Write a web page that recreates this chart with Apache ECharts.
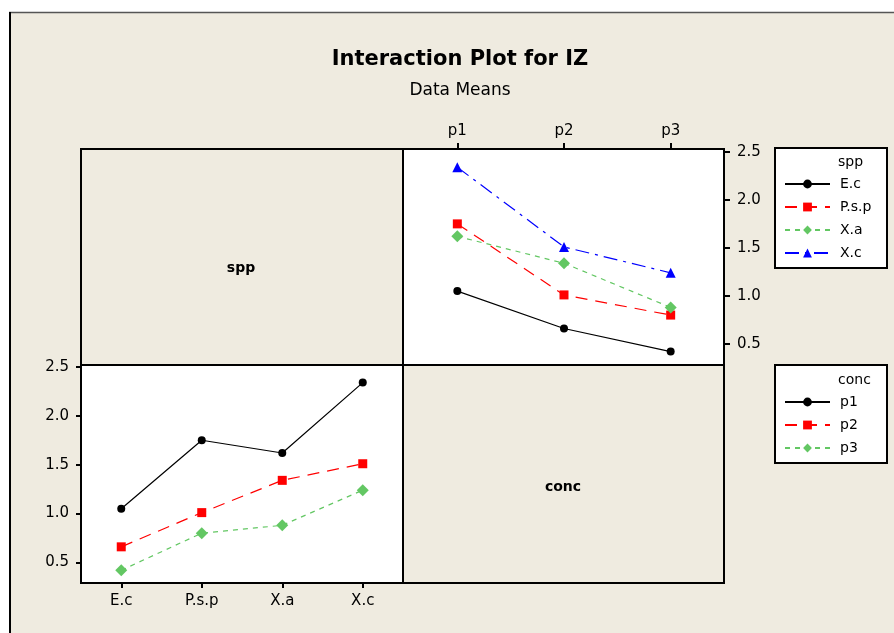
<!DOCTYPE html>
<html>
<head>
<meta charset="utf-8">
<script src="https://cdn.jsdelivr.net/npm/echarts@6/dist/echarts.min.js"></script>
<style>
html,body{margin:0;padding:0;background:#fff;}
#chart{width:894px;height:633px;}
</style>
</head>
<body>
<div id="chart"></div>
<script>
// ---- data ----
const concLevels = ['p1', 'p2', 'p3'];
const sppLevels = ['E.c', 'P.s.p', 'X.a', 'X.c'];
const meanEc  = [1.05, 0.66, 0.42];
const meanPsp = [1.75, 1.01, 0.80];
const meanXa  = [1.62, 1.34, 0.88];
const meanXc  = [2.34, 1.51, 1.24];
const yTicks = [0.5, 1.0, 1.5, 2.0, 2.5];
const titleText = 'Interaction Plot for IZ';
const subtitleText = 'Data Means';

const sppMeans = [meanEc, meanPsp, meanXa, meanXc];

const FONT = 'DejaVu Sans';
const BG = '#EFEBE0';
const styles = [
  { color: '#000000', type: 'solid', symbol: 'circle', size: 8 },
  { color: '#FF0000', type: [12, 8], symbol: 'rect', size: 9 },
  { color: '#63C763', type: [5, 5], symbol: 'diamond', size: 12 },
  { color: '#0000FF', type: [14, 6, 3, 6], symbol: 'triangle', size: 10 }
];

const series = [];
sppLevels.forEach((name, i) => {
  const s = styles[i];
  series.push({
    name: name, type: 'line', xAxisIndex: 0, yAxisIndex: 0,
    data: sppMeans[i],
    symbol: s.symbol, symbolSize: s.size,
    itemStyle: { color: s.color },
    lineStyle: { color: s.color, width: 1.2, type: s.type },
    animation: false
  });
});
concLevels.forEach((name, j) => {
  const s = styles[j];
  series.push({
    name: name, type: 'line', xAxisIndex: 1, yAxisIndex: 1,
    data: sppMeans.map(arr => arr[j]),
    symbol: s.symbol, symbolSize: s.size,
    itemStyle: { color: s.color },
    lineStyle: { color: s.color, width: 1.2, type: s.type },
    animation: false
  });
});

const labelStyle = { fontFamily: FONT, fontSize: 15, color: '#000' };
const fmt = v => Number(v).toFixed(1);
const legendText = { fontFamily: FONT, fontSize: 14, color: '#000', lineHeight: 16, padding: [0, 0, 0, 5] };

const option = {
  backgroundColor: BG,
  animation: false,
  title: [
    { text: titleText, left: 455, top: 44, textAlign: 'center',
      textStyle: { fontFamily: FONT, fontSize: 21, fontWeight: 'bold', color: '#000' } },
    { text: subtitleText, left: 455, top: 77, textAlign: 'center',
      textStyle: { fontFamily: FONT, fontSize: 17, fontWeight: 'normal', color: '#000' } }
  ],
  grid: [
    { left: 404, top: 149, width: 320, height: 216, show: true, backgroundColor: '#fff', borderWidth: 0 },
    { left: 81, top: 365, width: 322, height: 218, show: true, backgroundColor: '#fff', borderWidth: 0 }
  ],
  xAxis: [
    { type: 'category', gridIndex: 0, data: concLevels, position: 'top', boundaryGap: true,
      axisLine: { show: false },
      axisTick: { show: true, alignWithLabel: true, length: 6, lineStyle: { color: '#000', width: 2 } },
      axisLabel: Object.assign({ margin: 10 }, labelStyle),
      splitLine: { show: false } },
    { type: 'category', gridIndex: 1, data: sppLevels, position: 'bottom', boundaryGap: true,
      axisLine: { show: false },
      axisTick: { show: true, alignWithLabel: true, length: 5, lineStyle: { color: '#000', width: 2 } },
      axisLabel: Object.assign({ margin: 11 }, labelStyle),
      splitLine: { show: false } }
  ],
  yAxis: [
    { type: 'value', gridIndex: 0, position: 'right', min: 0.28, max: 2.53,
      axisLine: { show: false },
      axisTick: { show: true, length: 6, customValues: yTicks, lineStyle: { color: '#000', width: 2 } },
      axisLabel: Object.assign({ margin: 13, customValues: yTicks, formatter: fmt }, labelStyle),
      splitLine: { show: false } },
    { type: 'value', gridIndex: 1, position: 'left', min: 0.29, max: 2.52,
      axisLine: { show: false },
      axisTick: { show: true, length: 5, customValues: yTicks, lineStyle: { color: '#000', width: 2 } },
      axisLabel: Object.assign({ margin: 12, customValues: yTicks, formatter: fmt }, labelStyle),
      splitLine: { show: false } }
  ],
  legend: [
    { data: sppLevels, orient: 'vertical', left: 779, top: 171, itemWidth: 45, itemHeight: 11,
      itemGap: 7, selectedMode: false, textStyle: legendText },
    { data: concLevels, orient: 'vertical', left: 779, top: 389, itemWidth: 45, itemHeight: 11,
      itemGap: 7, selectedMode: false, textStyle: legendText }
  ],
  graphic: [
    // white margin outside the frame
    { type: 'rect', shape: { x: 0, y: 0, width: 894, height: 12 }, style: { fill: '#fff' }, z: 0, silent: true },
    { type: 'rect', shape: { x: 0, y: 0, width: 9, height: 633 }, style: { fill: '#fff' }, z: 0, silent: true },
    { type: 'line', shape: { x1: 9, y1: 12.5, x2: 894, y2: 12.5 }, style: { stroke: '#555', lineWidth: 1.5 }, z: 1, silent: true },
    { type: 'line', shape: { x1: 10, y1: 12, x2: 10, y2: 633 }, style: { stroke: '#000', lineWidth: 2 }, z: 1, silent: true },
    // matrix cell borders
    { type: 'rect', shape: { x: 81, y: 149, width: 322, height: 216 }, style: { fill: 'none', stroke: '#000', lineWidth: 2 }, z: 100, silent: true },
    { type: 'rect', shape: { x: 403, y: 149, width: 321, height: 216 }, style: { fill: 'none', stroke: '#000', lineWidth: 2 }, z: 100, silent: true },
    { type: 'rect', shape: { x: 81, y: 365, width: 322, height: 218 }, style: { fill: 'none', stroke: '#000', lineWidth: 2 }, z: 100, silent: true },
    { type: 'rect', shape: { x: 403, y: 365, width: 321, height: 218 }, style: { fill: 'none', stroke: '#000', lineWidth: 2 }, z: 100, silent: true },
    // diagonal labels
    { type: 'text', style: { text: 'spp', x: 241, y: 268, align: 'center', verticalAlign: 'middle', font: 'bold 14px "DejaVu Sans"', fill: '#000' }, z: 100 },
    { type: 'text', style: { text: 'conc', x: 563, y: 487, align: 'center', verticalAlign: 'middle', font: 'bold 14px "DejaVu Sans"', fill: '#000' }, z: 100 },
    // legend boxes
    { type: 'rect', shape: { x: 775, y: 148, width: 112, height: 120 }, style: { fill: '#fff', stroke: '#000', lineWidth: 2 }, z: -1, silent: true },
    { type: 'rect', shape: { x: 775, y: 365, width: 112, height: 98 }, style: { fill: '#fff', stroke: '#000', lineWidth: 2 }, z: -1, silent: true },
    { type: 'text', style: { text: 'spp', x: 838, y: 162, verticalAlign: 'middle', font: '14px "DejaVu Sans"', fill: '#000' }, z: 100 },
    { type: 'text', style: { text: 'conc', x: 838, y: 380, verticalAlign: 'middle', font: '14px "DejaVu Sans"', fill: '#000' }, z: 100 }
  ],
  series: series
};

const chart = echarts.init(document.getElementById('chart'), null, { renderer: 'canvas' });
chart.setOption(option);
</script>
</body>
</html>
